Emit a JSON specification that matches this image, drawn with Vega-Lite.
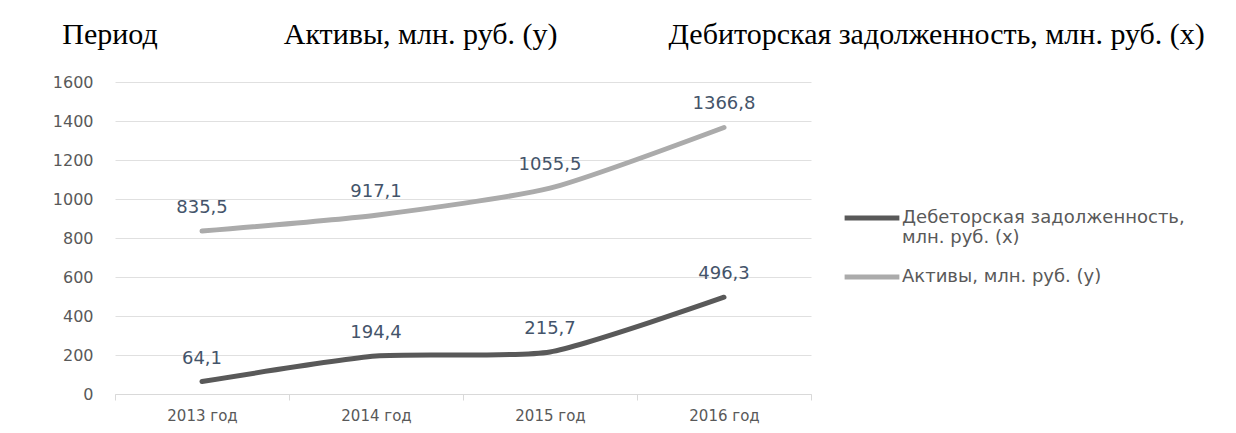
{
  "$schema": "https://vega.github.io/schema/vega-lite/v6.json",
  "width": 696,
  "height": 312,
  "padding": {"left": 52, "top": 20, "right": 5, "bottom": 5},
  "background": "white",
  "title": {
    "text": "Период\u2003\u2003\u2003\u2003\u2009Активы, млн. руб. (у)\u2003\u2003\u2003\u2002\u2009Дебиторская задолженность, млн. руб. (х)",
    "font": "Liberation Serif",
    "fontSize": 30,
    "fontWeight": "normal",
    "color": "#000000",
    "anchor": "start",
    "frame": "bounds",
    "dx": 10,
    "offset": 24
  },
  "config": {
    "view": {"stroke": null},
    "font": "DejaVu Sans",
    "locale": {"number": {"decimal": ",", "thousands": "\u00a0", "grouping": [3], "currency": ["", " ₽"]}}
  },
  "data": {
    "values": [
      {"year": "2013 год", "series": "Дебеторская задолженность, млн. руб. (х)", "value": 64.1},
      {"year": "2014 год", "series": "Дебеторская задолженность, млн. руб. (х)", "value": 194.4},
      {"year": "2015 год", "series": "Дебеторская задолженность, млн. руб. (х)", "value": 215.7},
      {"year": "2016 год", "series": "Дебеторская задолженность, млн. руб. (х)", "value": 496.3},
      {"year": "2013 год", "series": "Активы, млн. руб. (у)", "value": 835.5},
      {"year": "2014 год", "series": "Активы, млн. руб. (у)", "value": 917.1},
      {"year": "2015 год", "series": "Активы, млн. руб. (у)", "value": 1055.5},
      {"year": "2016 год", "series": "Активы, млн. руб. (у)", "value": 1366.8}
    ]
  },
  "encoding": {
    "x": {
      "field": "year",
      "type": "nominal",
      "sort": null,
      "scale": {"type": "band", "paddingInner": 0, "paddingOuter": 0},
      "axis": {
        "title": null,
        "labelAngle": 0,
        "labelFontSize": 15,
        "labelColor": "#595959",
        "domainColor": "#d9d9d9",
        "tickColor": "#d9d9d9",
        "tickSize": 6,
        "tickBand": "extent",
        "labelPadding": 8,
        "grid": false
      }
    },
    "y": {
      "field": "value",
      "type": "quantitative",
      "scale": {"domain": [0, 1600], "nice": false},
      "axis": {
        "title": null,
        "values": [0, 200, 400, 600, 800, 1000, 1200, 1400, 1600],
        "format": "d",
        "labelFontSize": 16,
        "labelColor": "#595959",
        "labelPadding": 22,
        "domain": false,
        "ticks": false,
        "gridColor": "#e0e0e0",
        "gridWidth": 1
      }
    }
  },
  "layer": [
    {
      "mark": {"type": "line", "interpolate": "cardinal", "tension": 0.4, "strokeWidth": 5, "strokeCap": "round"},
      "encoding": {
        "color": {
          "field": "series",
          "type": "nominal",
          "scale": {
            "domain": ["Дебеторская задолженность, млн. руб. (х)", "Активы, млн. руб. (у)"],
            "range": ["#595959", "#ababab"]
          },
          "legend": {
            "title": null,
            "orient": "none",
            "legendX": 727,
            "legendY": 106,
            "symbolType": "stroke",
            "symbolSize": 3000,
            "symbolStrokeWidth": 5,
            "labelFontSize": 18,
            "labelColor": "#595959",
            "labelOffset": 0,
            "labelLimit": 400,
            "rowPadding": -13,
            "padding": 0,
            "labelExpr": "datum.label == 'Дебеторская задолженность, млн. руб. (х)' ? ['Дебеторская задолженность,', 'млн. руб. (х)'] : datum.label"
          }
        }
      }
    },
    {
      "mark": {"type": "text", "dy": -23, "fontSize": 18, "color": "#44546a"},
      "encoding": {
        "text": {"field": "value", "type": "quantitative", "format": ".1f"}
      }
    }
  ]
}
